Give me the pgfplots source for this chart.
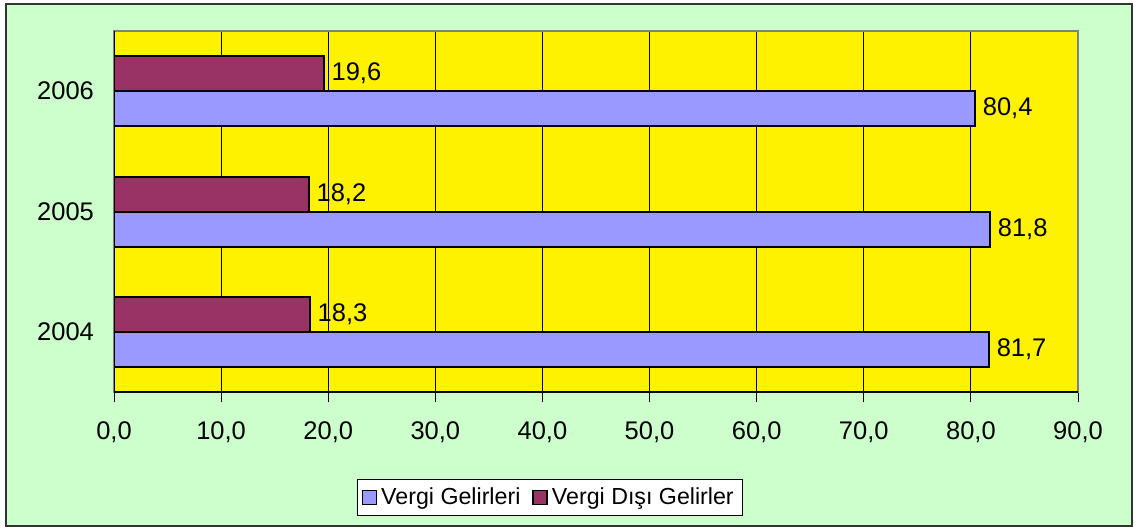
\documentclass[border=0pt]{standalone}
\usepackage{fontspec}
\setmainfont{Liberation Sans}
\usepackage{pgfplots}
\pgfplotsset{compat=1.18}
\definecolor{bgg}{HTML}{CCFFCC}
\definecolor{vg}{HTML}{9999FF}
\definecolor{vdg}{HTML}{993366}
\definecolor{frm}{HTML}{808080}
\begin{document}
\begin{tikzpicture}[font=\fontsize{12.75}{15}\selectfont]
\useasboundingbox (0,0) rectangle (569.5pt,265pt);
\filldraw[fill=bgg, draw=black!80, line width=0.75pt] (3pt,2pt) rectangle (566pt,263pt);
\begin{axis}[
  at={(57pt,69pt)}, anchor=south west,
  width=482pt, height=180.5pt, scale only axis,
  xbar, bar width=17.5pt,
  xmin=0, xmax=90, ymin=-0.5, ymax=2.5,
  axis background/.style={fill=yellow},
  axis line style={draw=frm, line width=0.75pt},
  xtick={0,10,...,90},
  xtick pos=bottom, ytick pos=left,
  tick align=outside,
  major tick length=5pt,
  xticklabel style={/pgf/number format/use comma, /pgf/number format/fixed, /pgf/number format/fixed zerofill, /pgf/number format/precision=1, /pgf/number format/assume math mode=true, /tikz/yshift=-6.5pt},
  ytick={0,1,2}, yticklabels={2004,2005,2006},
  ytick style={draw=none},
  yticklabel style={xshift=-1.5pt},
  minor ytick={-0.5,0.5,1.5,2.5},
  minor tick length=5pt,
  minor tick style={black, line width=0.5pt},
  xtick style={black, line width=0.5pt},
  xmajorgrids, major grid style={black, line width=0.5pt},
  yminorgrids=false,
  tick label style={font=\fontsize{12.75}{15}\selectfont},
  nodes near coords={\pgfmathprintnumber[use comma,fixed,fixed zerofill,precision=1,assume math mode=true]{\pgfplotspointmeta}},
  every node near coord/.append style={anchor=west, font=\fontsize{12.75}{15}\selectfont, black},
  legend style={at={(0.452,-0.292)}, anchor=center, legend columns=2, draw=black, fill=white,
    font=\fontsize{11.6}{13.5}\selectfont, inner sep=2.2pt,
    /tikz/every even column/.append style={column sep=4pt}},
]
\addplot[fill=vg, draw=black, line width=1pt, bar shift=-8.75pt,
  legend image code/.code={\draw[fill=vg, draw=black, line width=0.75pt] (0pt,-3.5pt) rectangle (7pt,3.5pt);}]
  coordinates {(81.7,0) (81.8,1) (80.4,2)};
\addlegendentry{Vergi Gelirleri}
\addplot[fill=vdg, draw=black, line width=1pt, bar shift=8.75pt,
  legend image code/.code={\draw[fill=vdg, draw=black, line width=0.75pt] (0pt,-3.5pt) rectangle (7pt,3.5pt);}]
  coordinates {(18.3,0) (18.2,1) (19.6,2)};
\addlegendentry{Vergi Dışı Gelirler}
\draw[black, line width=0.75pt] (rel axis cs:0,1) -- (rel axis cs:0,0) -- (rel axis cs:1,0);
\end{axis}
\end{tikzpicture}
\end{document}
